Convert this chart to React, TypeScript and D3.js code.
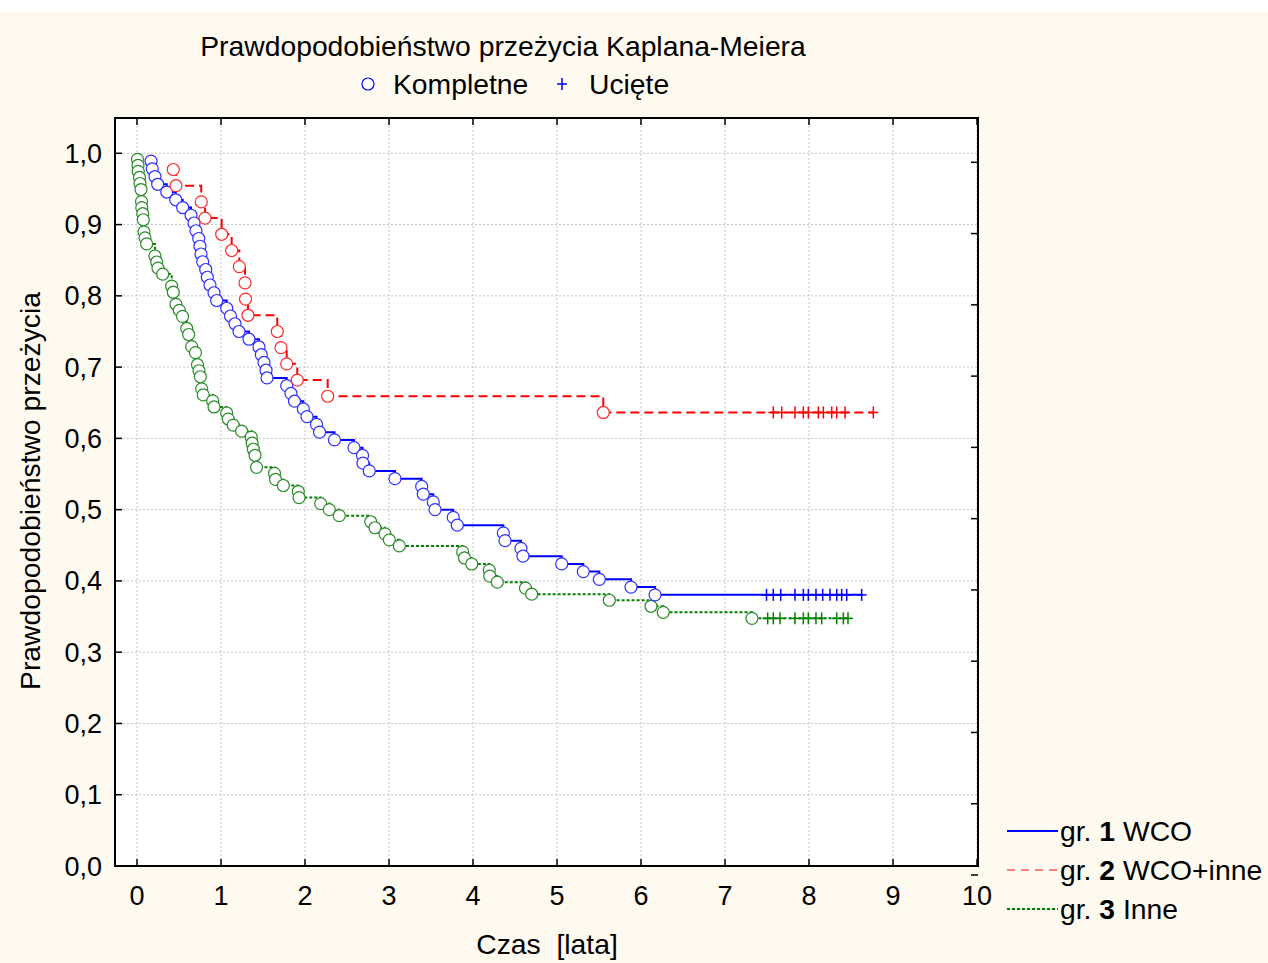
import React from "react";
import * as d3 from "d3";

// ---- data ----
const X_TICKS = [0, 1, 2, 3, 4, 5, 6, 7, 8, 9, 10];
const Y_TICKS = [0, 0.1, 0.2, 0.3, 0.4, 0.5, 0.6, 0.7, 0.8, 0.9, 1.0];

const TITLE = "Prawdopodobieństwo przeżycia Kaplana-Meiera";
const X_LABEL = "Czas  [lata]";
const Y_LABEL = "Prawdopodobieństwo przeżycia";

// group 1 (WCO): event times (years)
const gr1Events = [0.167, 0.182, 0.214, 0.246, 0.354, 0.461, 0.544, 0.643, 0.679, 0.702,
  0.735, 0.75, 0.762, 0.782, 0.818, 0.837, 0.869, 0.917, 0.949, 1.068,
  1.113, 1.167, 1.214, 1.333, 1.452, 1.48, 1.512, 1.536, 1.548, 1.782,
  1.833, 1.875, 1.98, 2.024, 2.137, 2.173, 2.351, 2.583, 2.685, 2.69,
  2.765, 3.071, 3.389, 3.408, 3.527, 3.548, 3.765, 3.813, 4.361, 4.381,
  4.571, 4.595, 5.056, 5.313, 5.504, 5.881, 6.167];
const gr1CensorTimes = [7.494, 7.575, 7.663, 7.833, 7.933, 7.992, 8.083, 8.163, 8.25, 8.33, 8.389, 8.449, 8.627];
const gr1CensorCounts = [3, 3, 3, 3, 3, 3, 3, 3, 2, 3, 3, 2, 1];

// group 2 (WCO+inne)
const gr2Events = [0.432, 0.464, 0.765, 0.81, 1.008, 1.127, 1.218, 1.286, 1.292, 1.321,
  1.67, 1.714, 1.782, 1.908, 2.27, 5.551];
const gr2CensorTimes = [7.575, 7.675, 7.833, 7.932, 7.992, 8.111, 8.171, 8.27, 8.33, 8.429, 8.766];
const gr2CensorCounts = [3, 3, 3, 2, 3, 2, 3, 2, 3, 3, 1];

// group 3 (Inne) — repeated times are tied events
const gr3Events = [0.006, 0.012, 0.015, 0.03, 0.036, 0.048, 0.054, 0.054, 0.057, 0.068,
  0.075, 0.083, 0.083, 0.095, 0.115, 0.214, 0.214, 0.235, 0.25, 0.306,
  0.413, 0.413, 0.432, 0.464, 0.464, 0.504, 0.542, 0.592, 0.592, 0.615,
  0.651, 0.651, 0.696, 0.72, 0.72, 0.738, 0.754, 0.77, 0.77, 0.789,
  0.901, 0.917, 1.068, 1.087, 1.146, 1.246, 1.36, 1.371, 1.385, 1.405,
  1.423, 1.423, 1.637, 1.649, 1.742, 1.92, 1.929, 2.187, 2.289, 2.408,
  2.782, 2.833, 2.952, 3.004, 3.123, 3.877, 3.899, 3.985, 4.194, 4.2,
  4.289, 4.625, 4.699, 5.623, 6.119, 6.265, 7.321];
const gr3CensorTimes = [7.508, 7.575, 7.655, 7.833, 7.932, 7.992, 8.083, 8.151, 8.33, 8.409, 8.464];
const gr3CensorCounts = [4, 4, 4, 4, 4, 4, 4, 4, 3, 3, 3];

const LEGEND_LABELS = [
  { pre: "gr. ", num: "1", post: " WCO" },
  { pre: "gr. ", num: "2", post: " WCO+inne" },
  { pre: "gr. ", num: "3", post: " Inne" },
];

// ---- Kaplan-Meier ----
type Step = { t: number; s: number };
function kaplanMeier(events: number[], cTimes: number[], cCounts: number[]) {
  const dMap = new Map<number, number>();
  events.forEach((t) => dMap.set(t, (dMap.get(t) || 0) + 1));
  const cMap = new Map<number, number>();
  cTimes.forEach((t, i) => cMap.set(t, (cMap.get(t) || 0) + cCounts[i]));
  const times = Array.from(new Set([...dMap.keys(), ...cMap.keys()])).sort((a, b) => a - b);
  let atRisk = events.length + d3.sum(cCounts);
  let s = 1;
  const steps: Step[] = [];
  const censored: Step[] = [];
  times.forEach((t) => {
    const d = dMap.get(t) || 0;
    const c = cMap.get(t) || 0;
    if (d > 0) {
      s = s * (1 - d / atRisk);
      steps.push({ t, s });
    }
    if (c > 0) censored.push({ t, s });
    atRisk -= d + c;
  });
  const tEnd = times[times.length - 1];
  return { steps, censored, tEnd };
}

const W = 1268, H = 963;
const PL = 115, PR = 978, PT = 118, PB = 866;
const x = d3.scaleLinear().domain([-22 / 84, 10]).range([PL, 977]);
const y = d3.scaleLinear().domain([0, 1]).range([PB, 153.3]);

const FONT = "'Liberation Sans', Arial, Helvetica, sans-serif";
const fmt = (v: number) => d3.format(".1f")(v).replace(".", ",");

const groups = [
  { events: gr3Events, cT: gr3CensorTimes, cC: gr3CensorCounts, line: "#008000", circ: "#2a8a2a", dash: "3,2", w: 2 },
  { events: gr1Events, cT: gr1CensorTimes, cC: gr1CensorCounts, line: "#0000ff", circ: "#3030ff", dash: "none", w: 2 },
  { events: gr2Events, cT: gr2CensorTimes, cC: gr2CensorCounts, line: "#ff0000", circ: "#ff2a2a", dash: "9,5", w: 2 },
];

function Curve({ g }: { g: typeof groups[number] }) {
  const km = kaplanMeier(g.events, g.cT, g.cC);
  const pts: [number, number][] = [];
  km.steps.forEach((st, i) => {
    if (i > 0) pts.push([x(st.t), y(km.steps[i - 1].s)]);
    pts.push([x(st.t), y(st.s)]);
  });
  const last = km.steps[km.steps.length - 1];
  pts.push([x(km.tEnd), y(last.s)]);
  const path = d3.line()(pts) || "";
  return (
    <g>
      <path d={path} fill="none" stroke={g.line} strokeWidth={g.w} strokeDasharray={g.dash} />
      {km.censored.map((c, i) => (
        <g key={"c" + i} stroke={g.line} strokeWidth={1.5}>
          <line x1={x(c.t)} x2={x(c.t)} y1={y(c.s) - 6} y2={y(c.s) + 6} />
          <line x1={x(c.t) - 5} x2={x(c.t) + 5} y1={y(c.s)} y2={y(c.s)} />
        </g>
      ))}
      {km.steps.map((st, i) => (
        <circle key={"e" + i} cx={x(st.t)} cy={y(st.s)} r={6} fill="#ffffff" stroke={g.circ} strokeWidth={1.2} />
      ))}
    </g>
  );
}

export default function App() {
  const legendLines = [
    { color: "#0000ff", dash: "none", w: 2 },
    { color: "#ff0000", dash: "8,6", w: 1 },
    { color: "#008000", dash: "3,2", w: 2 },
  ];
  const legendY = [831, 870, 909];
  const TXT = 28.3;
  return (
    <svg width={W} height={H} style={{ position: "absolute", left: 0, top: 0 }} fontFamily={FONT}>
      <rect x={0} y={0} width={W} height={H} fill="#fffaf0" />
      <rect x={0} y={0} width={W} height={12} fill="#ffffff" />
      <rect x={PL} y={PT} width={PR - PL} height={PB - PT} fill="#ffffff" />
      {/* grid */}
      {X_TICKS.map((t) => (
        <line key={"gx" + t} x1={x(t)} x2={x(t)} y1={PT} y2={PB} stroke="#c4c4c4" strokeWidth={1} strokeDasharray="2,2" />
      ))}
      {Y_TICKS.map((t) => (
        <line key={"gy" + t} x1={PL} x2={PR} y1={y(t)} y2={y(t)} stroke="#c4c4c4" strokeWidth={1} strokeDasharray="2,2" />
      ))}
      {/* curves */}
      {groups.map((g, i) => (
        <Curve key={i} g={g} />
      ))}
      {/* frame */}
      <rect x={PL} y={PT} width={PR - PL} height={PB - PT} fill="none" stroke="#000" strokeWidth={2} />
      {/* ticks */}
      {X_TICKS.map((t) => (
        <g key={"tx" + t} stroke="#000" strokeWidth={1.5}>
          <line x1={x(t)} x2={x(t)} y1={PB} y2={PB - 7} />
          <line x1={x(t)} x2={x(t)} y1={PT} y2={PT + 7} />
        </g>
      ))}
      {Y_TICKS.map((t) => (
        <g key={"ty" + t} stroke="#000" strokeWidth={1.5}>
          <line x1={PL} x2={PL + 7} y1={y(t)} y2={y(t)} />
          <line x1={PR} x2={PR - 7} y1={y(t) + 9} y2={y(t) + 9} />
        </g>
      ))}
      {/* tick labels */}
      {X_TICKS.map((t) => (
        <text key={"lx" + t} x={x(t)} y={905} fontSize={27} textAnchor="middle" fill="#000">
          {t}
        </text>
      ))}
      {Y_TICKS.map((t) => (
        <text key={"ly" + t} x={102} y={y(t) + 9.5} fontSize={27} textAnchor="end" fill="#000">
          {fmt(t)}
        </text>
      ))}
      {/* axis labels */}
      <text x={547} y={954} fontSize={TXT} textAnchor="middle" style={{ whiteSpace: "pre" }} fill="#000">
        {X_LABEL}
      </text>
      <text transform="translate(40,491) rotate(-90)" fontSize={TXT} textAnchor="middle" fill="#000">
        {Y_LABEL}
      </text>
      {/* title */}
      <text x={503} y={56} fontSize={TXT} textAnchor="middle" fill="#000">
        {TITLE}
      </text>
      {/* top legend */}
      <circle cx={368} cy={84} r={6} fill="#ffffff" stroke="#0000ff" strokeWidth={1.2} />
      <text x={393} y={94} fontSize={TXT} fill="#000">Kompletne</text>
      <g stroke="#0000ff" strokeWidth={1.5}>
        <line x1={562} x2={562} y1={78} y2={90} />
        <line x1={557} x2={567} y1={84} y2={84} />
      </g>
      <text x={589} y={94} fontSize={TXT} fill="#000">Ucięte</text>
      {/* bottom-right legend */}
      {LEGEND_LABELS.map((l, i) => (
        <g key={"lg" + i}>
          <line x1={1007} x2={1058} y1={legendY[i]} y2={legendY[i]} stroke={legendLines[i].color}
            strokeWidth={legendLines[i].w} strokeDasharray={legendLines[i].dash} />
          <text x={1060} y={legendY[i] + 10} fontSize={TXT} fill="#000" style={{ whiteSpace: "pre" }}>
            {l.pre}
            <tspan fontWeight="bold">{l.num}</tspan>
            {l.post}
          </text>
        </g>
      ))}
    </svg>
  );
}
